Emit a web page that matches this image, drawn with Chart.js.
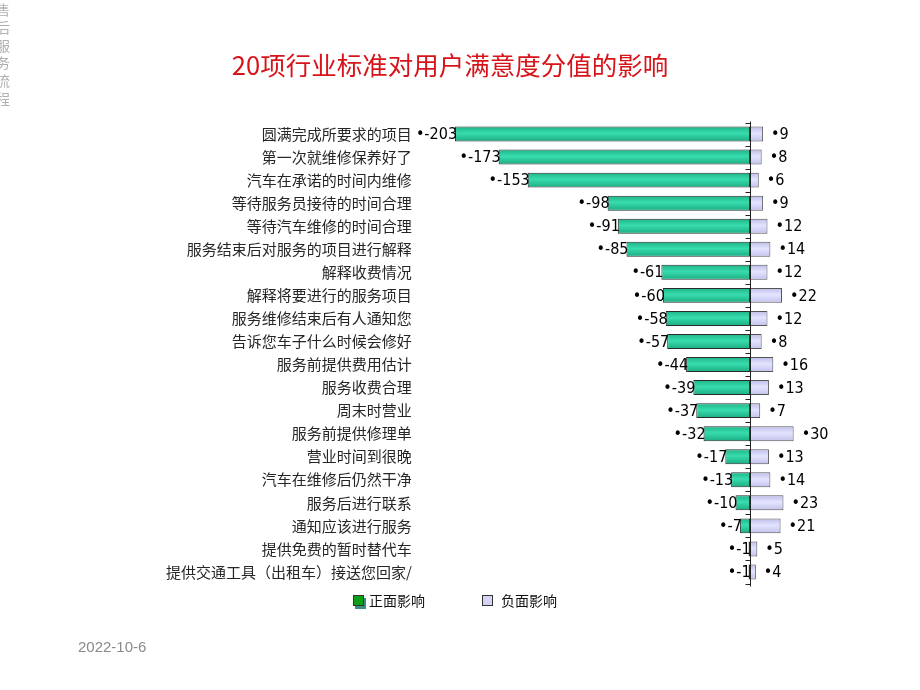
<!DOCTYPE html>
<html>
<head>
<meta charset="utf-8">
<script src="https://cdn.jsdelivr.net/npm/chart.js@4/dist/chart.umd.min.js"></script>
<style>
  html, body { margin: 0; padding: 0; background: #ffffff; }
  #wrap { position: relative; width: 920px; height: 690px; overflow: hidden; }
  #c { position: absolute; left: 0; top: 0; }
  #side { position: absolute; left: -7px; top: 3px; writing-mode: vertical-rl; font: 14px "Noto Sans CJK SC", sans-serif; color: #b0b0b0; letter-spacing: 3.7px; }
  #date { position: absolute; left: 78px; top: 638px; font: 15px "Liberation Sans", Arial, sans-serif; color: #8a8a8a; }
</style>
</head>
<body>
<div id="wrap">
  <canvas id="c" width="920" height="690"></canvas>
  <div id="side">售后服务流程</div>
  <div id="date">2022-10-6</div>
</div>
<script>
const chartTitle = '20项行业标准对用户满意度分值的影响';
const categories = [
  '圆满完成所要求的项目',
  '第一次就维修保养好了',
  '汽车在承诺的时间内维修',
  '等待服务员接待的时间合理',
  '等待汽车维修的时间合理',
  '服务结束后对服务的项目进行解释',
  '解释收费情况',
  '解释将要进行的服务项目',
  '服务维修结束后有人通知您',
  '告诉您车子什么时候会修好',
  '服务前提供费用估计',
  '服务收费合理',
  '周末时营业',
  '服务前提供修理单',
  '营业时间到很晚',
  '汽车在维修后仍然干净',
  '服务后进行联系',
  '通知应该进行服务',
  '提供免费的暂时替代车',
  '提供交通工具（出租车）接送您回家/'
];
const seriesNames = ['正面影响', '负面影响'];
const positiveImpact = [-203, -173, -153, -98, -91, -85, -61, -60, -58, -57, -44, -39, -37, -32, -17, -13, -10, -7, -1, -1];
const negativeImpact = [9, 8, 6, 9, 12, 14, 12, 22, 12, 8, 16, 13, 7, 30, 13, 14, 23, 21, 5, 4];

const BAR_PCT = 0.65;
const PAD_LEFT = 77.3;

function barFill(stops) {
  return (ctx) => {
    const chart = ctx.chart;
    const ys = chart.scales && chart.scales.y;
    if (!ys || !chart.chartArea || ctx.type !== 'data') return stops[1];
    const band = (ys.bottom - ys.top) / categories.length;
    const h = band * BAR_PCT / 2;
    const yc = ys.getPixelForValue(ctx.dataIndex);
    const g = chart.ctx.createLinearGradient(0, yc - h, 0, yc + h);
    g.addColorStop(0, stops[0]);
    g.addColorStop(0.45, stops[1]);
    g.addColorStop(1, stops[2]);
    return g;
  };
}

const zeroAxis = {
  id: 'zeroAxis',
  afterDatasetsDraw(chart) {
    const xs = chart.scales.x, ys = chart.scales.y, c = chart.ctx;
    const x0 = Math.round(xs.getPixelForValue(0)) + 0.5;
    const n = categories.length;
    const band = (ys.bottom - ys.top) / n;
    c.save();
    c.strokeStyle = '#222';
    c.lineWidth = 1;
    c.beginPath();
    c.moveTo(x0, ys.top - 1);
    c.lineTo(x0, ys.bottom + 3);
    for (let i = 0; i <= n; i++) {
      const y = Math.round(ys.top + i * band) + 0.5;
      c.moveTo(x0 - 5, y);
      c.lineTo(x0, y);
    }
    c.stroke();
    c.restore();
  }
};

const valueLabels = {
  id: 'valueLabels',
  afterDraw(chart) {
    const xs = chart.scales.x, c = chart.ctx;
    c.save();
    c.font = '16px "DejaVu Sans Condensed", "DejaVu Sans", sans-serif';
    c.fillStyle = '#000';
    c.textBaseline = 'middle';
    chart.data.datasets.forEach((ds, di) => {
      const meta = chart.getDatasetMeta(di);
      meta.data.forEach((bar, j) => {
        const v = ds.data[j];
        const x = xs.getPixelForValue(v);
        if (v < 0) {
          c.textAlign = 'right';
          c.fillText('•' + v, x + 2, bar.y + 1);
        } else {
          c.textAlign = 'left';
          c.fillText('•' + v, x + 8, bar.y + 1);
        }
      });
    });
    c.restore();
  }
};

const boxLegend = {
  id: 'boxLegend',
  afterDraw(chart) {
    const c = chart.ctx;
    const items = [
      { x: 353, text: chart.data.datasets[0].label, fill: '#0fa01a', shadow: '#3c8f80', tx: 369 },
      { x: 482, text: chart.data.datasets[1].label, fill: '#d4d4f4', shadow: null, tx: 501 }
    ];
    const y = 595;
    c.save();
    items.forEach(it => {
      if (it.shadow) {
        c.fillStyle = it.shadow;
        c.fillRect(it.x + 2, y + 3, 11, 11);
      }
      c.fillStyle = it.fill;
      c.fillRect(it.x, y, 11, 11);
      c.strokeStyle = '#333';
      c.lineWidth = 1;
      c.strokeRect(it.x + 0.5, y + 0.5, 10, 10);
      c.fillStyle = '#111';
      c.font = '14px "Noto Sans CJK SC", sans-serif';
      c.textAlign = 'left';
      c.textBaseline = 'middle';
      c.fillText(it.text, it.tx, y + 6);
    });
    c.restore();
  }
};

new Chart(document.getElementById('c'), {
  type: 'bar',
  data: {
    labels: categories,
    datasets: [
      {
        label: seriesNames[0],
        data: positiveImpact,
        backgroundColor: barFill(['#1db488', '#38dcae', '#1aac82']),
        borderColor: '#2b2b2b',
        borderWidth: 1,
        borderSkipped: false,
        barPercentage: BAR_PCT,
        categoryPercentage: 1.0
      },
      {
        label: seriesNames[1],
        data: negativeImpact,
        backgroundColor: barFill(['#bcbce8', '#e4e4ff', '#c2c2ec']),
        borderColor: '#555',
        borderWidth: 1,
        borderSkipped: false,
        barPercentage: BAR_PCT,
        categoryPercentage: 1.0
      }
    ]
  },
  options: {
    indexAxis: 'y',
    responsive: false,
    animation: false,
    layout: { padding: { left: PAD_LEFT, right: 97.3, top: 0, bottom: 106.5 } },
    plugins: {
      legend: { display: false },
      tooltip: { enabled: false },
      title: {
        display: true,
        text: chartTitle,
        color: '#d7141a',
        font: { family: '"Noto Sans CJK SC", sans-serif', size: 25.5, weight: 'normal' },
        padding: { top: 50.5, bottom: 41.4 }
      }
    },
    scales: {
      x: { type: 'linear', min: -230, max: 50, stacked: true, display: false },
      y: {
        stacked: true,
        grid: { display: false, drawTicks: false },
        border: { display: false },
        ticks: {
          color: '#262626',
          padding: 4,
          font: { family: '"Noto Sans CJK SC", sans-serif', size: 15 }
        },
        afterFit(s) { s.width = 415.8 - PAD_LEFT; }
      }
    }
  },
  plugins: [zeroAxis, valueLabels, boxLegend]
});
</script>
</body>
</html>
